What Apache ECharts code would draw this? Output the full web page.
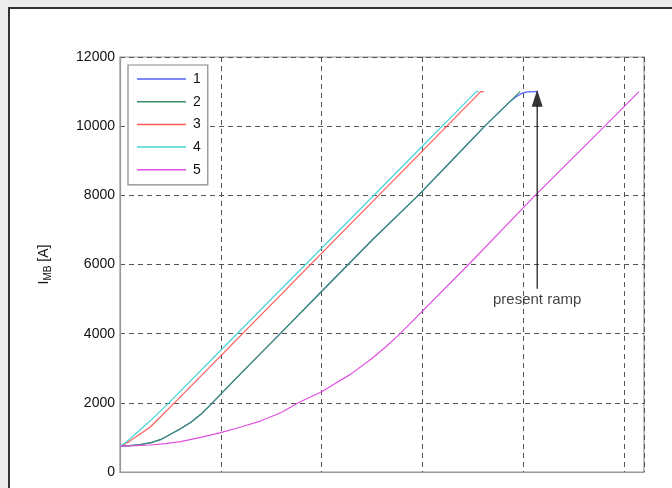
<!DOCTYPE html>
<html>
<head>
<meta charset="utf-8">
<script src="https://cdn.jsdelivr.net/npm/echarts@6/dist/echarts.min.js"></script>
<style>
html,body{margin:0;padding:0;background:#fff;}
#chart{width:672px;height:488px;}
</style>
</head>
<body>
<div id="chart"></div>
<script>
// ---- data (x in grid units, y in A) ----
var seriesNames = ['1', '2', '3', '4', '5'];
var yTicks = [0, 2000, 4000, 6000, 8000, 10000, 12000];

var s1x = [0, 0.1, 0.2, 0.31, 0.4, 0.47, 0.6, 0.7, 0.8, 0.9, 1.0, 1.2, 1.59, 2.0, 2.5, 2.96, 3.3, 3.62, 3.86, 3.92, 3.98, 4.04, 4.14];
var s1y = [750, 765, 790, 850, 935, 1040, 1250, 1430, 1660, 1950, 2250, 2850, 4000, 5220, 6700, 8000, 9030, 10000, 10680, 10830, 10940, 10990, 11000];

var s2x = [0, 0.1, 0.2, 0.31, 0.4, 0.47, 0.6, 0.7, 0.8, 0.9, 1.0, 1.2, 1.59, 2.0, 2.5, 2.96, 3.3, 3.62, 3.97];
var s2y = [750, 765, 790, 850, 935, 1040, 1250, 1430, 1660, 1950, 2250, 2850, 4000, 5220, 6700, 8000, 9030, 10000, 11000];

var s3x = [0, 0.05, 0.1, 0.2, 0.3, 0.54, 1.0, 2.0, 3.0, 3.58, 3.61];
var s3y = [750, 810, 900, 1100, 1300, 2000, 3360, 6320, 9280, 11000, 11000];

var s4x = [0, 0.05, 0.1, 0.2, 0.3, 0.485, 1.0, 2.0, 3.0, 3.535, 3.56];
var s4y = [750, 840, 960, 1220, 1480, 2000, 3520, 6470, 9420, 11000, 11000];

var s5x = [0, 0.15, 0.3, 0.45, 0.6, 0.8, 1.0, 1.2, 1.4, 1.6, 1.77, 2.0, 2.29, 2.5, 2.65, 2.78, 3.46, 4.12, 4.81, 5.15];
var s5y = [750, 760, 780, 820, 880, 1000, 1140, 1300, 1480, 1720, 2000, 2320, 2830, 3280, 3650, 4000, 6000, 8000, 10000, 11000];

// annotation
var arrowX = 4.14;
var arrowY = [5300, 10600];
var arrowHeadY = 10805;
var annotationText = 'present ramp';
var annotationY = 4973;

function pairs(xs, ys) { return xs.map(function (x, i) { return [x, ys[i]]; }); }

var FONT = 'Liberation Sans, Arial, sans-serif';
var colors = ['#5060ff', '#3a9066', '#ff5a5a', '#48d4d4', '#e050e0'];
var xsAll = [s1x, s2x, s3x, s4x, s5x];
var ysAll = [s1y, s2y, s3y, s4y, s5y];

var series = seriesNames.map(function (n, i) {
  return {
    name: n, type: 'line', data: pairs(xsAll[i], ysAll[i]),
    symbol: 'none',
    lineStyle: { color: colors[i], width: 1.2 },
    itemStyle: { color: colors[i] },
    z: 2 + i, animation: false
  };
});
series.push({
  name: 'arrow', type: 'line', data: [[arrowX, arrowY[0]], [arrowX, arrowY[1]]],
  symbol: 'none', lineStyle: { color: '#111', width: 1.2 }, z: 10, animation: false
});
series.push({
  name: 'arrowhead', type: 'scatter', data: [[arrowX, arrowHeadY]],
  symbol: 'triangle', symbolSize: [11, 17], itemStyle: { color: '#000' }, z: 11, animation: false
});
series.push({
  name: 'note', type: 'scatter', data: [[arrowX, annotationY]],
  symbolSize: 1, itemStyle: { color: 'rgba(0,0,0,0)' },
  label: { show: true, position: 'inside', formatter: annotationText, color: '#111',
           fontSize: 15, fontFamily: FONT },
  z: 11, animation: false
});

var chart = echarts.init(document.getElementById('chart'), null, { renderer: 'canvas' });
chart.setOption({
  backgroundColor: '#ffffff',
  animation: false,
  graphic: [
    { type: 'rect', shape: { x: 0, y: 0, width: 672, height: 7 }, style: { fill: '#ececec' }, z: 0 },
    { type: 'rect', shape: { x: 0, y: 0, width: 8, height: 488 }, style: { fill: '#ececec' }, z: 0 },
    { type: 'rect', shape: { x: 8, y: 7, width: 664, height: 2 }, style: { fill: '#333' }, z: 0 },
    { type: 'rect', shape: { x: 8, y: 7, width: 2, height: 481 }, style: { fill: '#333' }, z: 0 }
  ],
  grid: { left: 120, right: 28, top: 57, bottom: 16, show: true, borderColor: '#999', borderWidth: 1.2, backgroundColor: 'transparent' },
  legend: {
    data: seriesNames, orient: 'vertical', left: 128, top: 65,
    icon: 'path://M0,0 L100,0 L100,3 L0,3 Z',
    itemWidth: 49, itemHeight: 14, itemGap: 8.7,
    padding: [7, 7, 8, 9],
    borderColor: '#888', borderWidth: 1.2, backgroundColor: '#fff',
    textStyle: { fontSize: 14, color: '#111', fontFamily: FONT, padding: [0, 0, 0, 2] }
  },
  xAxis: {
    type: 'value', min: 0, max: 5.2, interval: 1,
    axisLine: { show: true, lineStyle: { color: '#999', width: 1.2 } },
    axisTick: { show: false }, axisLabel: { show: false },
    splitLine: { show: true, lineStyle: { color: '#555', type: [5, 4], width: 1 } }
  },
  yAxis: {
    type: 'value', min: yTicks[0], max: yTicks[yTicks.length - 1], interval: yTicks[1] - yTicks[0],
    name: '{a|I}{b|MB}{a| [A]}', nameLocation: 'middle', nameGap: 66, nameRotate: 90,
    nameTextStyle: {
      rich: {
        a: { fontSize: 14, color: '#111', fontFamily: FONT, lineHeight: 20 },
        b: { fontSize: 10, color: '#111', fontFamily: FONT, padding: [9, 0, 0, 0], lineHeight: 20 }
      }
    },
    axisLine: { show: true, lineStyle: { color: '#999', width: 1.2 } },
    axisTick: { show: false },
    axisLabel: { color: '#111', fontSize: 14, margin: 5, fontFamily: FONT,
                 formatter: function (v) { return String(v); } },
    splitLine: { show: true, lineStyle: { color: '#555', type: [5, 4], width: 1 } }
  },
  series: series
});
</script>
</body>
</html>
